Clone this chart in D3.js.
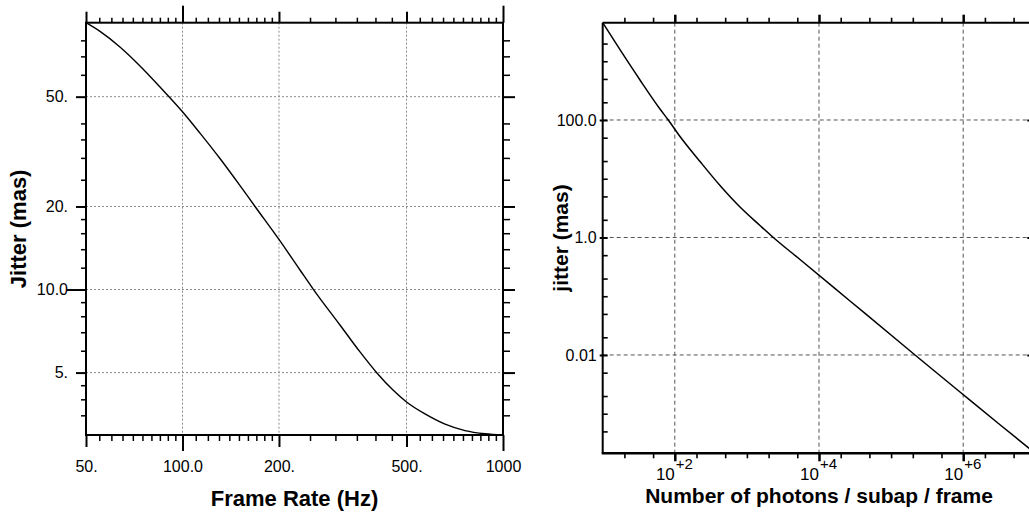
<!DOCTYPE html>
<html><head><meta charset="utf-8">
<script src="https://cdn.jsdelivr.net/npm/d3@7"></script>
<style>
body{margin:0;background:#fff}
svg{display:block}
text{font-family:"Liberation Sans",Arial,Helvetica,sans-serif;fill:#000}
</style>
</head><body>
<svg id="c" width="1029" height="513"></svg>
<script>
// ---------- Left panel data: jitter vs frame rate ----------
const frameRate = [50, 55.3, 63.8, 73.7, 85.1, 100, 113.4, 130.9, 151.2, 168.4, 201.5, 232.6, 256, 310, 358, 403.6, 453.8, 500, 571, 659.6, 761, 878.8, 1000];
const jitterFR  = [92.7, 86.2, 75.7, 64.6, 54.2, 44.1, 36.9, 29.85, 23.8, 20.0, 15.0, 11.77, 10.02, 7.44, 5.94, 4.995, 4.32, 3.91, 3.54, 3.25, 3.08, 3.00, 2.97];
const frameTicksMajor  = [50, 200, 500];
const frameTicksDecade = [100, 1000];
const frameTickValues  = [50, 100, 200, 500, 1000];
const frameTickLabels  = ["50.", "100.0", "200.", "500.", "1000"];
const frameTicksMinor  = [55,60,65,70,75,80,85,90,95,110,120,130,140,150,160,170,180,190,250,300,350,400,450,550,600,650,700,750,800,850,900,950];
const frameGrid        = [100, 200, 500];
const jitterFRTickValues = [5, 10, 20, 50];
const jitterFRTickLabels = ["5.", "10.0", "20.", "50."];
const jitterFRTicksDecade = [10];
const jitterFRTicksMajor  = [5, 20, 50];
const jitterFRTicksMinor  = [3.5,4,4.5,6,7,8,9,12,14,16,18,25,30,35,40,60,70,80];

// ---------- Right panel data: jitter vs photons ----------
const photons  = [10, 17.38, 32.9, 62.3, 81.2, 118.1, 223.7, 423.7, 802.4, 1519, 2324, 5452, 26920, 132900, 214600, 902800, 3.239e6, 1e7];
const jitterPh = [4531, 1573, 479.7, 153.9, 100, 52.4, 19.66, 7.675, 3.304, 1.601, 1.0, 0.4222, 0.08303, 0.01632, 0.0100, 0.002346, 6.486e-4, 2.12e-4];
const photonDomain     = [10, 1e7];
const photonTicksMajor = [1e2, 1e4, 1e6];
const photonTickBase   = "10";
const photonTickExp    = ["+2", "+4", "+6"];
const photonTicksMinor = [20,50,200,500,1e3,2e3,5e3,2e4,5e4,1e5,2e5,5e5,2e6,5e6];
const jitterPhTicksMajor = [100, 1, 0.01];
const jitterPhTickLabels = ["100.0", "1.0", "0.01"];
const jitterPhTicksMinor = [2000,1000,500,200,50,20,10,5,2,0.5,0.2,0.1,0.05,0.02,0.005,0.002,0.001,5e-4];

// ---------- layout ----------
const L = {left: 86, right: 503, top: 22.7, bottom: 435};
const R = {left: 602.7, right: 1035.3, top: 22.7, bottom: 453.3};

const svg = d3.select("#c");
svg.append("rect").attr("width",1029).attr("height",513).attr("fill","#fff");

function tickGroup(parent, axis, tx, ty, width) {
  const g = parent.append("g").attr("transform", `translate(${tx},${ty})`).call(axis);
  g.select(".domain").remove();
  g.selectAll("line").attr("stroke","#000").attr("stroke-width", width);
  return g;
}
const nf = () => "";

// ================= LEFT PANEL =================
const xL = d3.scaleLog().domain([frameRate[0], frameRate[frameRate.length-1]]).range([L.left, L.right]);
const yL = d3.scaleLog().domain(d3.extent(jitterFR)).range([L.bottom, L.top]);
const gL = svg.append("g");

gL.selectAll(".gx").data(frameGrid).enter().append("line")
  .attr("x1", d=>xL(d)).attr("x2", d=>xL(d)).attr("y1", L.top).attr("y2", L.bottom)
  .attr("stroke","#8a8a8a").attr("stroke-width",1).attr("stroke-dasharray","2,2");
gL.selectAll(".gy").data(jitterFRTickValues).enter().append("line")
  .attr("x1", L.left).attr("x2", L.right).attr("y1", d=>yL(d)).attr("y2", d=>yL(d))
  .attr("stroke","#8a8a8a").attr("stroke-width",1).attr("stroke-dasharray","2,2");

tickGroup(gL, d3.axisBottom(xL).tickValues(frameTicksMinor).tickSize(6).tickFormat(nf), 0, L.bottom, 1.5);
tickGroup(gL, d3.axisBottom(xL).tickValues(frameTicksMajor).tickSize(12).tickFormat(nf), 0, L.bottom, 2);
tickGroup(gL, d3.axisBottom(xL).tickValues(frameTicksDecade).tickSize(16).tickFormat(nf), 0, L.bottom, 2);
tickGroup(gL, d3.axisTop(xL).tickValues(frameTicksMinor).tickSize(5).tickFormat(nf), 0, L.top, 1.5);
tickGroup(gL, d3.axisTop(xL).tickValues(frameTicksMajor).tickSize(11).tickFormat(nf), 0, L.top, 2);
tickGroup(gL, d3.axisTop(xL).tickValues(frameTicksDecade).tickSize(17).tickFormat(nf), 0, L.top, 2);
tickGroup(gL, d3.axisLeft(yL).tickValues(jitterFRTicksMinor).tickSize(5).tickFormat(nf), L.left, 0, 1.5);
tickGroup(gL, d3.axisLeft(yL).tickValues(jitterFRTicksMajor).tickSize(10).tickFormat(nf), L.left, 0, 2);
tickGroup(gL, d3.axisLeft(yL).tickValues(jitterFRTicksDecade).tickSize(19).tickFormat(nf), L.left, 0, 2);
tickGroup(gL, d3.axisRight(yL).tickValues(jitterFRTicksMinor).tickSize(7).tickFormat(nf), L.right, 0, 1.5);
tickGroup(gL, d3.axisRight(yL).tickValues(jitterFRTickValues).tickSize(12).tickFormat(nf), L.right, 0, 2);

const xLab = gL.append("g").attr("transform",`translate(0,${L.bottom})`)
  .call(d3.axisBottom(xL).tickValues(frameTickValues).tickSize(0).tickPadding(26)
        .tickFormat((d,i)=>frameTickLabels[i]));
xLab.select(".domain").remove();
xLab.selectAll("text").attr("font-size",16).attr("font-family",null).attr("fill","#000");
const yLab = gL.append("g").attr("transform",`translate(${L.left},0)`)
  .call(d3.axisLeft(yL).tickValues(jitterFRTickValues).tickSize(0).tickPadding(18)
        .tickFormat((d,i)=>jitterFRTickLabels[i]));
yLab.select(".domain").remove();
yLab.selectAll("text").attr("font-size",16).attr("font-family",null).attr("fill","#000");

gL.append("rect").attr("x",L.left).attr("y",L.top).attr("width",L.right-L.left).attr("height",L.bottom-L.top)
  .attr("fill","none").attr("stroke","#000").attr("stroke-width",2);

gL.append("path").datum(frameRate.map((f,i)=>[f, jitterFR[i]]))
  .attr("fill","none").attr("stroke","#000").attr("stroke-width",1.4)
  .attr("d", d3.line().x(d=>xL(d[0])).y(d=>yL(d[1])).curve(d3.curveMonotoneX));

gL.append("text").attr("x",(L.left+L.right)/2).attr("y",506).attr("text-anchor","middle")
  .attr("font-size",22).attr("font-weight","bold").text("Frame Rate (Hz)");
gL.append("text").attr("transform",`translate(26,${(L.top+L.bottom)/2}) rotate(-90)`).attr("text-anchor","middle")
  .attr("font-size",22).attr("font-weight","bold").text("Jitter (mas)");

// ================= RIGHT PANEL =================
const xR = d3.scaleLog().domain(photonDomain).range([R.left, R.right]);
const yR = d3.scaleLog().domain(d3.extent(jitterPh)).range([R.bottom, R.top]);
const gR = svg.append("g");

gR.selectAll(".gx").data(photonTicksMajor).enter().append("line")
  .attr("x1", d=>xR(d)).attr("x2", d=>xR(d)).attr("y1", R.top).attr("y2", R.bottom)
  .attr("stroke","#555").attr("stroke-width",1).attr("stroke-dasharray","4,3");
gR.selectAll(".gy").data(jitterPhTicksMajor).enter().append("line")
  .attr("x1", R.left).attr("x2", R.right).attr("y1", d=>yR(d)).attr("y2", d=>yR(d))
  .attr("stroke","#555").attr("stroke-width",1).attr("stroke-dasharray","4,3");

tickGroup(gR, d3.axisBottom(xR).tickValues(photonTicksMinor).tickSize(-5).tickFormat(nf), 0, R.top, 1.6);
tickGroup(gR, d3.axisBottom(xR).tickValues(photonTicksMajor).tickSize(-8).tickFormat(nf), 0, R.top, 2.5);
tickGroup(gR, d3.axisTop(xR).tickValues(photonTicksMinor).tickSize(-5).tickFormat(nf), 0, R.bottom, 1.6);
tickGroup(gR, d3.axisTop(xR).tickValues(photonTicksMajor).tickSize(-8).tickFormat(nf), 0, R.bottom, 2.5);
tickGroup(gR, d3.axisRight(yR).tickValues(jitterPhTicksMinor).tickSize(5).tickFormat(nf), R.left, 0, 1.6);
tickGroup(gR, d3.axisRight(yR).tickValues(jitterPhTicksMajor).tickSize(8).tickFormat(nf), R.left-3, 0, 2);
tickGroup(gR, d3.axisLeft(yR).tickValues(jitterPhTicksMajor).tickSize(8).tickFormat(nf), R.right, 0, 2);

// x tick labels: "10" ending at the tick, exponent raised just after it
const xRLab = gR.append("g");
xRLab.selectAll(".base").data(photonTicksMajor).enter().append("text")
  .attr("x", d=>xR(d)).attr("y", R.bottom + 26.5).attr("text-anchor","end")
  .attr("font-size",17).text(photonTickBase);
xRLab.selectAll(".exp").data(photonTicksMajor).enter().append("text")
  .attr("x", d=>xR(d)+1).attr("y", R.bottom + 16).attr("text-anchor","start")
  .attr("font-size",15).text((d,i)=>photonTickExp[i]);

const yRLab = gR.append("g").attr("transform",`translate(${R.left},0)`)
  .call(d3.axisLeft(yR).tickValues(jitterPhTicksMajor).tickSize(0).tickPadding(6)
        .tickFormat((d,i)=>jitterPhTickLabels[i]));
yRLab.select(".domain").remove();
yRLab.selectAll("text").attr("font-size",16).attr("font-family",null).attr("fill","#000");

gR.append("line").attr("x1",R.left).attr("x2",R.right).attr("y1",R.top).attr("y2",R.top).attr("stroke","#000").attr("stroke-width",2);
gR.append("line").attr("x1",R.left-1).attr("x2",R.right).attr("y1",R.bottom).attr("y2",R.bottom).attr("stroke","#000").attr("stroke-width",2.5);
gR.append("line").attr("x1",R.left).attr("x2",R.left).attr("y1",R.top).attr("y2",R.bottom).attr("stroke","#000").attr("stroke-width",2);
gR.append("line").attr("x1",R.right).attr("x2",R.right).attr("y1",R.top).attr("y2",R.bottom).attr("stroke","#000").attr("stroke-width",2);

gR.append("path").datum(photons.map((n,i)=>[n, jitterPh[i]]))
  .attr("fill","none").attr("stroke","#000").attr("stroke-width",1.5)
  .attr("d", d3.line().x(d=>xR(d[0])).y(d=>yR(d[1])).curve(d3.curveMonotoneX));

gR.append("text").attr("x",(R.left+R.right)/2).attr("y",503).attr("text-anchor","middle")
  .attr("font-size",21).attr("font-weight","bold").text("Number of photons / subap / frame");
gR.append("text").attr("transform",`translate(568,${(R.top+R.bottom)/2}) rotate(-90)`).attr("text-anchor","middle")
  .attr("font-size",21).attr("font-weight","bold").text("jitter (mas)");
</script>
</body></html>
